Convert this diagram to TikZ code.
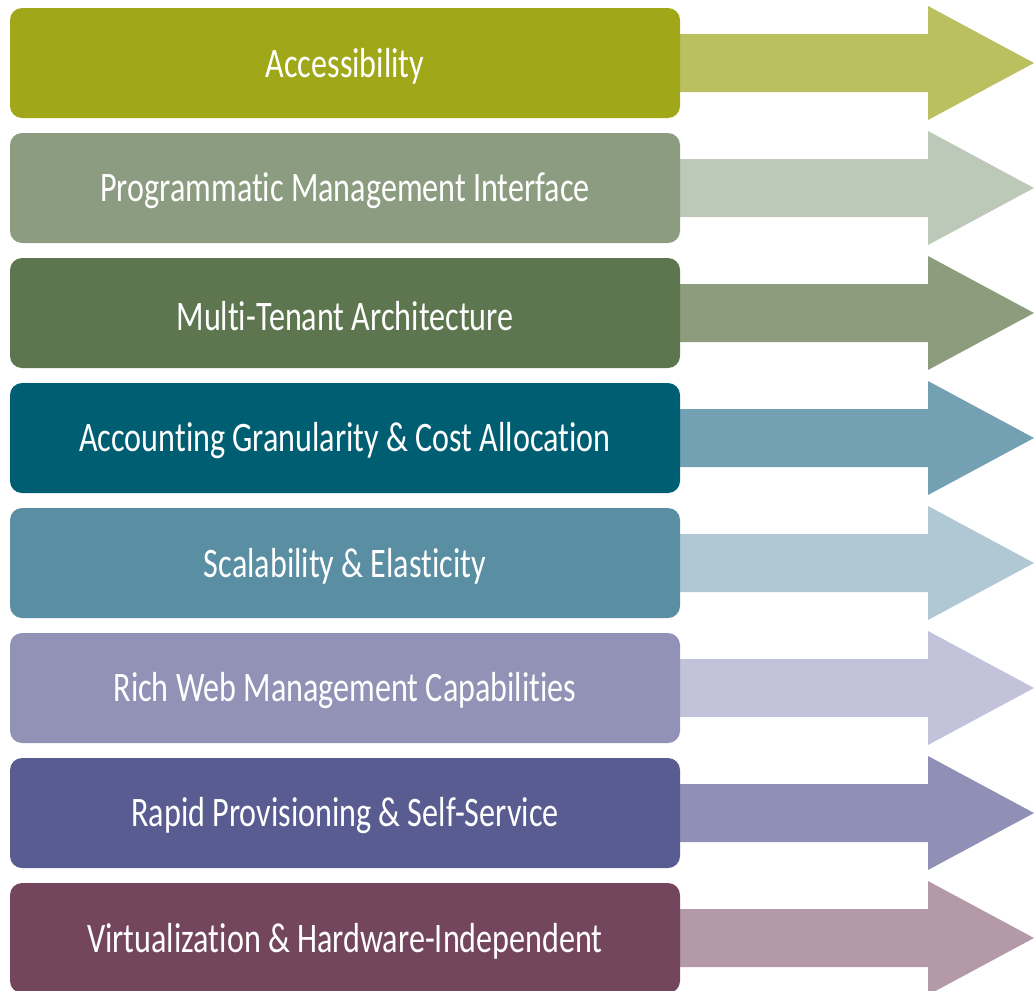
\documentclass[tikz,border=0pt]{standalone}
\usepackage{fontspec}
\setmainfont[RawFeature={-liga;-dlig;-clig}]{Carlito}
\usepackage{graphicx}
\definecolor{bA}{HTML}{A0A81A}\definecolor{aA}{HTML}{BABF60}
\definecolor{bB}{HTML}{8C9C80}\definecolor{aB}{HTML}{BDC9B8}
\definecolor{bC}{HTML}{5E7650}\definecolor{aC}{HTML}{8C9C7C}
\definecolor{bD}{HTML}{005E72}\definecolor{aD}{HTML}{74A0B4}
\definecolor{bE}{HTML}{5A8EA2}\definecolor{aE}{HTML}{B0C8D4}
\definecolor{bF}{HTML}{9292B6}\definecolor{aF}{HTML}{C2C2DA}
\definecolor{bG}{HTML}{585C90}\definecolor{aG}{HTML}{9090B6}
\definecolor{bH}{HTML}{74465E}\definecolor{aH}{HTML}{B49AA8}
\newcommand{\lbl}[1]{\scalebox{0.765}[1]{#1}}
\tikzset{
  itembox/.style={fill=#1, rounded corners=12pt, minimum width=670pt, minimum height=110pt,
    inner sep=0pt},
  itemtext/.style={text=white, font=\fontsize{42}{46}\selectfont, inner sep=0pt},
}
\begin{document}
\begin{tikzpicture}[x=1pt,y=-1pt]
\useasboundingbox (0,0) rectangle (1034,991);
\clip (0,0) rectangle (1034,991);
\foreach \k/\bc/\ac/\t in {
  0/bA/aA/Accessibility,
  1/bB/aB/Programmatic Management Interface,
  2/bC/aC/Multi-Tenant Architecture,
  3/bD/aD/Accounting Granularity \& Cost Allocation,
  4/bE/aE/Scalability \& Elasticity,
  5/bF/aF/Rich Web Management Capabilities,
  6/bG/aG/Rapid Provisioning \& Self-Service,
  7/bH/aH/Virtualization \& Hardware-Independent}{
  \pgfmathsetmacro{\cy}{63+125*\k}
  \fill[\ac] (670,\cy-29) -- (928,\cy-29) -- (928,\cy-57) -- (1034,\cy) -- (928,\cy+57) -- (928,\cy+29) -- (670,\cy+29) -- cycle;
  \node[itembox=\bc] (box\k) at (345,\cy) {};
  \node[itemtext] (label\k) at ([yshift=-3pt]box\k.center) {\lbl{\t}};
}
\end{tikzpicture}
\end{document}
